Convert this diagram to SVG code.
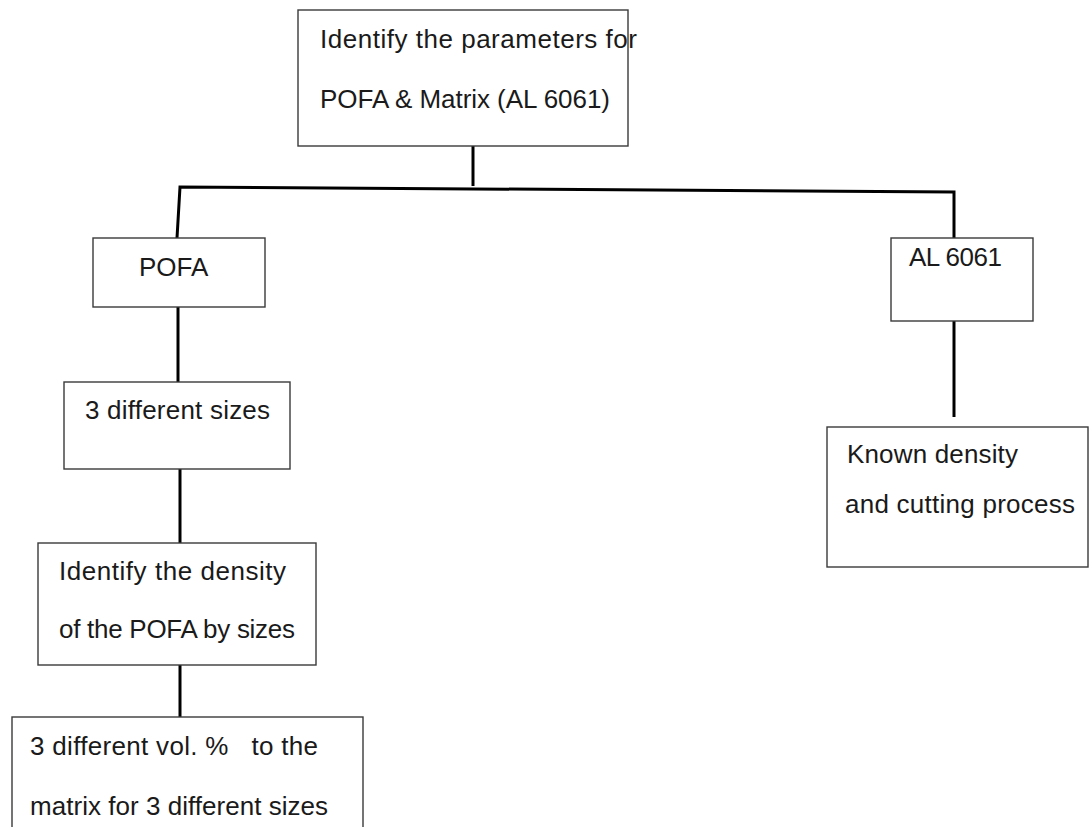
<svg xmlns="http://www.w3.org/2000/svg" width="1090" height="827" viewBox="0 0 1090 827">
  <style>
    .box { fill: #ffffff; stroke: #3a3a3a; stroke-width: 1.4; }
    .lbl { font-family: "Liberation Sans", Arial, sans-serif; font-size: 26px; fill: #1a1a1a; white-space: pre; }
    .link { fill: none; stroke: #000000; stroke-width: 3; stroke-linejoin: miter; }
  </style>
  <rect width="1090" height="827" fill="#ffffff"/>

  <!-- connectors -->
  <g id="connectors">
    <path class="link" d="M473,146 V186"/>
    <path class="link" d="M177,238 L180,187 L954,192 V238"/>
    <path class="link" d="M178,307 V382"/>
    <path class="link" d="M180,469 V543"/>
    <path class="link" d="M180,665 V717"/>
    <path class="link" d="M954,321 V417"/>
  </g>

  <g id="node-root">
    <rect class="box" x="298" y="10" width="330" height="136"/>
    <text class="lbl" x="320" y="48" textLength="317">Identify the parameters for</text>
    <text class="lbl" x="320" y="108" textLength="290">POFA &amp; Matrix (AL 6061)</text>
  </g>

  <g id="node-pofa">
    <rect class="box" x="93" y="238" width="172" height="69"/>
    <text class="lbl" x="139" y="276">POFA</text>
  </g>

  <g id="node-al6061">
    <rect class="box" x="891" y="238" width="142" height="83"/>
    <text class="lbl" x="909" y="266" textLength="93">AL 6061</text>
  </g>

  <g id="node-sizes">
    <rect class="box" x="64" y="382" width="226" height="87"/>
    <text class="lbl" x="85" y="419" textLength="185">3 different sizes</text>
  </g>

  <g id="node-density">
    <rect class="box" x="38" y="543" width="278" height="122"/>
    <text class="lbl" x="59" y="580" textLength="227">Identify the density</text>
    <text class="lbl" x="59" y="638" textLength="236">of the POFA by sizes</text>
  </g>

  <g id="node-volume">
    <rect class="box" x="12" y="717" width="351" height="130"/>
    <text class="lbl" x="30" y="755" textLength="288">3 different vol. %   to the</text>
    <text class="lbl" x="30" y="815" textLength="298">matrix for 3 different sizes</text>
  </g>

  <g id="node-known">
    <rect class="box" x="827" y="427" width="261" height="140"/>
    <text class="lbl" x="847" y="463" textLength="171">Known density</text>
    <text class="lbl" x="845" y="513" textLength="230">and cutting process</text>
  </g>
</svg>
